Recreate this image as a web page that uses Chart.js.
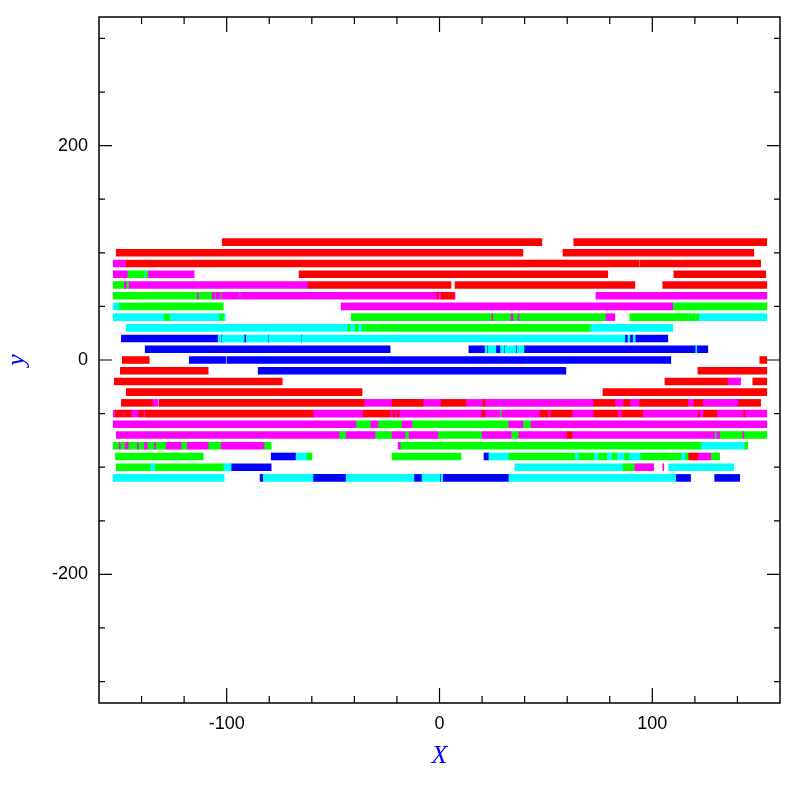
<!DOCTYPE html>
<html><head><meta charset="utf-8">
<script src="https://cdn.jsdelivr.net/npm/chart.js@4/dist/chart.umd.min.js"></script>
<style>html,body{margin:0;padding:0;background:#fff}canvas{display:block}</style>
</head><body>
<canvas id="c" width="797" height="797" style="width:797px;height:797px"></canvas>
<script>
// tick labels
const xTickLabels = [-100, 0, 100];
const yTickLabels = [-200, 0, 200];
// each segment: [y, xStart, xEnd]
const red = [
 [110,-102.1,48.1],[110,63.1,153.8],
 [100,-151.9,39.2],[100,58.0,147.7],
 [90,-147.2,93.7],[90,94.1,150.9],
 [80,-66,79.1],[80,110.1,153.3],
 [70,-61.7,5.4],[70,7.3,91.8],[70,104.9,153.8],
 [60,-1.2,-0.6],[60,0.8,6.8],
 [0,-149.1,-136.4],[0,150.5,153.8],
 [-10,-150,-108.7],[-10,121.4,153.8],
 [-20,-152.8,-73.9],[-20,105.9,135.4],[-20,147.2,153.8],
 [-30,-147.2,-36.4],[-30,76.8,153.8],
 [-40,-149.5,-135],[-40,-131.7,-35.4],[-40,-22.3,-7.7],[-40,0.7,12.4],[-40,20.4,21.4],[-40,72.5,82.4],[-40,86.6,89.4],[-40,94.1,116.7],[-40,119.5,123.7],[-40,140.6,150.9],
 [-50,-152.3,-148.6],[-50,-148.1,-144.8],[-50,-141.5,-139.2],[-50,-138.3,-59.4],[-50,-35.9,-23.2],[-50,-21.8,-20.9],[-50,-19.9,-19],[-50,20,21.4],[-50,47.2,50.9],[-50,52.3,62.2],[-50,72.5,83.8],[-50,85.7,95.5],[-50,121.8,122.3],[-50,124.2,130.3],[-50,143,143.5],
 [-70,59.9,62.2],
 [-90,117.1,121.4]
];
const magenta = [
 [90,-153.3,-147.2],
 [80,-153.3,-146.7],[80,-136.8,-115.3],
 [70,-148.1,-147.2],[70,-145.8,-61.7],
 [60,-113.8,-113.3],[60,-106.8,-105.5],[60,-104.9,-103.1],[60,-102.4,-94],[60,-93.5,-1.2],[60,-0.6,0.8],[60,6.8,7.3],[60,73.5,153.8],
 [50,-46.2,109.6],
 [40,24.6,25],[40,33.6,34.5],[40,36.9,37.3],[40,78.2,82.4],
 [-20,135.4,141.5],
 [-40,-135,-132.2],[-40,-35.4,-22.3],[-40,-7.7,0.7],[-40,12.4,20.4],[-40,21.4,72.5],[-40,82.4,86.6],[-40,89.4,94.1],[-40,116.7,119.5],[-40,123.7,140.6],
 [-50,-153.3,-152.3],[-50,-148.6,-148.1],[-50,-144.8,-141.5],[-50,-139.2,-138.3],[-50,-59.4,-35.9],[-50,-23.2,-21.8],[-50,-20.9,-19.9],[-50,-19,20],[-50,21.4,28.4],[-50,29.3,47.2],[-50,50.9,52.3],[-50,62.2,72.5],[-50,83.8,85.7],[-50,95.5,121.8],[-50,122.3,124.2],[-50,130.3,143],[-50,143.5,153.8],
 [-60,-153.3,-39.2],[-60,-32.2,-28.9],[-60,-17.6,-12.9],[-60,32.6,39.2],[-60,43,153.8],
 [-70,-151.9,-47.2],[-70,-43.9,-30.3],[-70,-22.3,-16.2],[-70,-14.3,-0.7],[-70,20,33.6],[-70,37.3,59.9],[-70,62.2,129.3],[-70,130.3,131.7],[-70,142.5,143],
 [-80,-150.5,-150],[-80,-147.7,-146.2],[-80,-142,-141.5],[-80,-138.7,-137.3],[-80,-134,-133.5],[-80,-128.4,-121.4],[-80,-118.5,-108.7],[-80,-102.6,-82.4],[-80,-19.5,-18.5],
 [-90,121.4,127.5],
 [-100,91.8,100.7],[-100,104.9,105.4]
];
const green = [
 [80,-146.7,-138.7],[80,-137.8,-136.8],
 [70,-153.3,-148.1],[70,-147.2,-145.8],
 [60,-153.3,-113.8],[60,-113.3,-106.8],[60,-105.5,-104.9],[60,-103.1,-102.4],[60,-94,-93.5],
 [50,-150.5,-149],[50,-148.6,-140.1],[50,-139.7,-101.6],[50,109.6,153.8],
 [40,-129.3,-126.9],[40,-103.3,-101.6],[40,-41.5,24.6],[40,25,33.6],[40,34.5,36.9],[40,37.3,78.2],[40,89.4,116.7],[40,117.1,120],[40,120.4,121.8],
 [30,-43,-42.3],[30,-39.7,-38.3],[30,-36.4,-35.5],[30,-35,-31.6],[30,-31.1,-29.2],[30,-28.7,-25],[30,-24.5,-19.4],[30,-19,70.2],[30,70.7,71.1],
 [-50,28.4,29.3],
 [-60,-39.2,-32.2],[-60,-28.9,-17.6],[-60,-12.9,32.6],[-60,39.2,43],
 [-70,-47.2,-43.9],[-70,-30.3,-22.3],[-70,-16.2,-14.3],[-70,-0.7,20],[-70,33.6,37.3],[-70,129.3,130.3],[-70,131.7,142.5],[-70,143,153.8],
 [-80,-153.3,-150.5],[-80,-150,-147.7],[-80,-146.2,-142],[-80,-141.5,-138.7],[-80,-137.3,-134],[-80,-133.5,-128.4],[-80,-121.4,-118.5],[-80,-108.7,-102.6],[-80,-82.4,-79.1],[-80,-18.5,122.8],[-80,143.4,144.8],
 [-90,-152.3,-111],[-90,-62.2,-59.9],[-90,-22.3,10.1],[-90,32.6,63.6],[-90,65.5,72.5],[-90,74.9,78.6],[-90,81.4,83.3],[-90,87.1,89],[-90,94.6,113.4],[-90,115.7,117.1],[-90,127.5,131.7],
 [-100,-151.9,-135.9],[-100,-133.5,-101.6],[-100,86.2,91.8]
];
const cyan = [
 [80,-138.7,-137.8],
 [50,-153.3,-150.5],[50,-149,-148.6],[50,-140.1,-139.7],
 [40,-153.3,-129.3],[40,-126.9,-103.3],[40,-101.6,-100.7],[40,116.7,117.1],[40,120,120.4],[40,121.8,153.8],
 [30,-147.2,-43],[30,-42.3,-39.7],[30,-38.3,-36.4],[30,-35.5,-35],[30,-31.6,-31.1],[30,-29.2,-28.7],[30,-25,-24.5],[30,-19.4,-19],[30,70.2,70.7],[30,71.1,109.6],
 [20,-104,-102.6],[20,-102.1,-91.8],[20,-90.8,-80.5],[20,-80,-65],[20,-64.6,87.1],[20,88.5,89.4],[20,91,92],
 [10,21.4,22.3],[10,22.8,26.5],[10,28.7,30.3],[10,30.8,35.9],[10,36.5,39.7],[10,120.4,120.9],
 [-80,122.8,143.4],
 [-90,-67.4,-62.2],[-90,23.2,32.6],[-90,63.6,65.5],[-90,72.5,74.9],[-90,78.6,81.4],[-90,83.3,87.1],[-90,89,94.6],[-90,113.4,115.7],
 [-100,-135.9,-133.5],[-100,-101.6,-97.9],[-100,35.4,86.2],[-100,107.7,138.3],
 [-110,-153.3,-101.2],[-110,-82.8,-59.4],[-110,-43.9,-12],[-110,-8.2,0.2],[-110,0.8,1.5],[-110,32.6,111]
];
const blue = [
 [20,-149.5,-104],[20,-102.6,-102.1],[20,-91.8,-90.8],[20,-80.5,-80],[20,-65,-64.6],[20,87.1,88.5],[20,89.4,91],[20,92,107.3],
 [10,-138.3,-23.2],[10,13.8,21.4],[10,22.3,22.8],[10,26.5,28.7],[10,30.3,30.8],[10,35.9,36.5],[10,39.7,120.4],[10,120.9,126.1],
 [0,-117.6,-100.5],[0,-99.9,108.7],
 [-10,-85.2,59.4],
 [-90,-79.1,-67.4],[-90,20.9,23.2],
 [-100,-97.9,-79.1],
 [-110,-84.3,-82.8],[-110,-59.4,-43.9],[-110,-12,-8.2],[-110,0.2,0.8],[-110,1.5,32.6],[-110,111,118],[-110,129.3,141.1]
];
const series = [
 {name:'red', color:'#ff0000', segs:red},
 {name:'magenta', color:'#ff00ff', segs:magenta},
 {name:'green', color:'#00ff00', segs:green},
 {name:'cyan', color:'#00ffff', segs:cyan},
 {name:'blue', color:'#0000ff', segs:blue}
];
function toBars(segs){ return segs.map(s => ({x:[s[1], s[2]], y:s[0]})); }

const frame = {
  id:'frame',
  afterDraw(chart){
    const {ctx, chartArea:a, scales:{x, y}} = chart;
    ctx.save();
    ctx.strokeStyle = '#000';
    ctx.lineWidth = 1.5;
    ctx.strokeRect(a.left, a.top, a.right - a.left, a.bottom - a.top);
    ctx.lineWidth = 1.2;
    ctx.beginPath();
    for (let v = -140; v <= 140; v += 20) {
      const px = x.getPixelForValue(v);
      const len = (v % 100 === 0) ? 15 : 7;
      ctx.moveTo(px, a.bottom); ctx.lineTo(px, a.bottom - len);
      ctx.moveTo(px, a.top); ctx.lineTo(px, a.top + len);
    }
    for (let v = -300; v <= 300; v += 50) {
      const py = y.getPixelForValue(v);
      const len = (v % 200 === 0) ? 13 : 6;
      ctx.moveTo(a.left, py); ctx.lineTo(a.left + len, py);
      ctx.moveTo(a.right, py); ctx.lineTo(a.right - len, py);
    }
    ctx.stroke();
    ctx.restore();
  }
};

new Chart(document.getElementById('c').getContext('2d'), {
  type:'bar',
  data:{ datasets: series.map(s => ({
    label:s.name, data:toBars(s.segs), backgroundColor:s.color,
    borderWidth:0, barThickness:7, grouped:false, inflateAmount:0.3
  }))},
  options:{
    indexAxis:'y',
    responsive:false, animation:false, devicePixelRatio:1,
    layout:{padding:{top:17, right:17, left:0, bottom:0}},
    plugins:{legend:{display:false}, tooltip:{enabled:false}},
    scales:{
      x:{
        type:'linear', position:'bottom', min:-160, max:160, offset:false,
        grid:{display:false, drawTicks:false}, border:{display:false},
        afterBuildTicks:s => { s.ticks = xTickLabels.map(v => ({value:v})); },
        ticks:{color:'#000', font:{family:'Liberation Sans', size:18}, padding:10, maxRotation:0, autoSkip:false},
        title:{display:true, text:'X', color:'#0000ff', font:{family:'Liberation Serif', style:'italic', size:26}, padding:{top:0, bottom:25}},
        afterFit:s => { s.height = 94; s.paddingLeft = 0; s.paddingRight = 0; }
      },
      y:{
        type:'linear', position:'left', min:-320, max:320, offset:false,
        grid:{display:false, drawTicks:false}, border:{display:false},
        afterBuildTicks:s => { s.ticks = yTickLabels.map(v => ({value:v})); },
        ticks:{color:'#000', font:{family:'Liberation Sans', size:18}, padding:11, autoSkip:false},
        title:{display:true, text:'y', color:'#0000ff', font:{family:'Liberation Serif', style:'italic', size:26}, padding:{top:2, bottom:0}},
        afterFit:s => { s.width = 99; s.paddingTop = 0; s.paddingBottom = 0; }
      }
    }
  },
  plugins:[frame]
});
</script>
</body></html>
